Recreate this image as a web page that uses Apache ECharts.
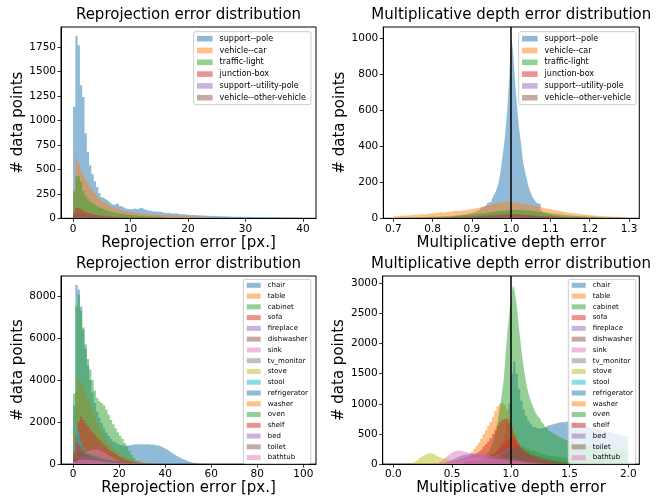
<!DOCTYPE html>
<html>
<head>
<meta charset="utf-8">
<script src="https://cdn.jsdelivr.net/npm/echarts@6/dist/echarts.min.js"></script>
<style>html,body{margin:0;padding:0;background:#fff}#chart{width:659px;height:497px}</style>
</head>
<body>
<div id="chart"></div>
<script>
// ---- data: categories ----
const topNames = ['support--pole', 'vehicle--car', 'traffic-light', 'junction-box', 'support--utility-pole', 'vehicle--other-vehicle']
const botNames = ['chair', 'table', 'cabinet', 'sofa', 'fireplace', 'dishwasher', 'sink', 'tv_monitor', 'stove', 'stool',
  'refrigerator', 'washer', 'oven', 'shelf', 'bed', 'toilet', 'bathtub']

// ---- tick labels ----
const tlXTicks = [0, 10, 20, 30, 40]
const tlYTicks = [0, 250, 500, 750, 1000, 1250, 1500, 1750]
const trXTicks = [0.7, 0.8, 0.9, 1.0, 1.1, 1.2, 1.3]
const trYTicks = [0, 200, 400, 600, 800, 1000]
const blXTicks = [0, 20, 40, 60, 80, 100]
const blYTicks = [0, 2000, 4000, 6000, 8000]
const brXTicks = [0.0, 0.5, 1.0, 1.5, 2.0]
const brYTicks = [0, 500, 1000, 1500, 2000, 2500, 3000]

// ---- top-left: reprojection error counts (bin start, bin width) ----
const tlPoleBins = [0, 0.4]
const tlPole = [1140, 1864, 1770, 1360, 1240, 870, 680, 540, 450, 380, 320, 260, 215, 200, 185, 165, 145, 135, 150, 148,
  125, 112, 100, 96, 92, 96, 100, 92, 102, 106, 95, 86, 80, 76, 70, 73, 66, 69, 60, 58,
  55, 57, 50, 48, 51, 45, 42, 41, 38, 37, 35, 33, 34, 30, 31, 28, 29, 26, 27, 24,
  25, 22, 23, 21, 20, 21, 19, 18, 19, 17, 16, 17, 15, 16, 14, 15, 13, 14, 12, 13,
  12, 11, 12, 10, 11, 10, 9, 10, 9, 8, 9, 8, 7, 8, 7, 6, 7, 6, 6, 5]
const tlCarBins = [0, 0.4]
const tlCar = [300, 610, 560, 500, 440, 400, 360, 320, 290, 255, 230, 200, 175, 160, 145, 130, 120, 110, 100, 95,
  85, 80, 75, 70, 66, 62, 58, 55, 52, 50, 47, 45, 43, 42, 40, 39, 38, 36, 35, 34,
  33, 32, 31, 30, 29, 28, 27, 26, 25, 24, 22, 21, 19, 18, 16, 15, 14, 12, 11, 10]
const tlLightBins = [0, 0.4]
const tlLight = [275, 430, 425, 375, 280, 230, 200, 170, 150, 130, 118, 105, 95, 85, 78, 70, 65, 60, 55, 50,
  46, 43, 40, 38, 35, 33, 31, 29, 27, 25, 23, 22, 20, 19, 18, 16, 15, 14, 13, 12]
const tlBoxBins = [0, 0.4]
const tlBox = [60, 105, 100, 85, 70, 60, 52, 45, 40, 35, 31, 28, 25, 22, 20, 18, 16, 15, 13, 12,
  11, 10, 9, 8, 8, 7, 6, 6, 5, 5]
const tlUtilBins = [0, 0.4]
const tlUtil = [10, 30, 28, 24, 20, 17, 15, 13, 11, 10, 9, 8, 7, 6, 6, 5, 5, 4, 4, 3, 3, 3, 2, 2, 2]
const tlOtherBins = [0, 0.4]
const tlOther = [25, 55, 50, 44, 38, 33, 29, 26, 23, 20, 18, 16, 14, 13, 12, 11, 10, 9, 8, 8,
  7, 6, 6, 5, 5, 4, 4, 4, 3, 3]

// ---- top-right: multiplicative depth error counts ----
const trPoleBins = [0.85, 0.005]
const trPole = [12, 14, 15, 17, 18, 20, 22, 25, 28, 30, 34, 38, 42, 48, 55, 62, 68, 75, 85, 92,
  105, 122, 145, 175, 220, 290, 380, 470, 600, 780, 1012, 930, 760, 620, 500, 420, 320, 260, 215, 170,
  140, 115, 100, 85, 80, 50, 35, 28, 24, 20, 17, 15, 13, 12, 10, 9, 8, 7, 6, 5]
const trCarBins = [0.70, 0.01]
const trCar = [12, 14, 16, 15, 18, 20, 22, 21, 25, 28, 30, 33, 32, 36, 38, 42, 40, 45, 48, 52,
  55, 60, 64, 70, 76, 82, 86, 90, 92, 90, 88, 85, 80, 78, 74, 70, 64, 58, 54, 50,
  46, 42, 38, 34, 31, 28, 25, 23, 20, 18, 16, 14, 13, 11, 10, 9, 8, 7, 6, 5]
const trLightBins = [0.72, 0.01]
const trLight = [3, 4, 4, 5, 6, 6, 7, 8, 9, 10, 11, 12, 13, 15, 16, 18, 20, 22, 24, 26,
  28, 31, 34, 37, 40, 42, 44, 46, 47, 46, 45, 44, 42, 40, 37, 34, 31, 28, 25, 22,
  20, 18, 16, 14, 13, 12, 10, 9, 8, 7, 6, 5, 5, 4, 4, 3, 3, 2]
const trBoxBins = [0.80, 0.01]
const trBox = [2, 2, 3, 3, 4, 4, 5, 5, 6, 7, 8, 9, 10, 11, 12, 13, 15, 16, 18, 19,
  20, 19, 18, 16, 15, 13, 12, 11, 10, 9, 8, 7, 6, 5, 5, 4, 4, 3, 3, 2]
const trUtilBins = [0.85, 0.01]
const trUtil = [1, 1, 2, 2, 3, 3, 4, 4, 5, 6, 7, 8, 9, 10, 10, 10, 9, 8, 7, 6, 5, 4, 4, 3, 3, 2, 2, 1, 1, 1]
const trOtherBins = [0.75, 0.01]
const trOther = [2, 2, 3, 3, 4, 4, 5, 5, 6, 6, 7, 8, 9, 10, 11, 12, 13, 15, 17, 19,
  21, 23, 24, 25, 25, 24, 23, 21, 19, 17, 15, 14, 12, 11, 10, 9, 8, 7, 6, 6,
  5, 5, 4, 4, 3, 3, 3, 2, 2, 2]

// ---- bottom-left: reprojection error counts ----
const blChairBins = [0, 1]
const blChair = [2800, 8520, 8300, 7500, 6400, 5500, 4700, 4000, 3400, 2900, 2500, 2200, 1950, 1700, 1500, 1350, 1200, 1080, 990, 930,
  900, 880, 870, 880, 900, 920, 940, 930, 950, 940, 930, 945, 950, 920, 930, 900, 880, 850, 800, 740,
  680, 610, 540, 470, 400, 340, 280, 230, 180, 140, 100, 75, 50, 35, 20, 12, 6]
const blTableBins = [0, 1]
const blTable = [1500, 3500, 4050, 3900, 3700, 3400, 3100, 2800, 2500, 2200, 1950, 1700, 1500, 1300, 1150, 1000, 870, 750, 650, 560,
  480, 410, 350, 300, 250, 210, 175, 145, 120, 100, 80, 65, 50, 40, 30, 22, 16, 12, 8, 5]
const blCabinetBins = [0, 1]
const blCabinet = [3360, 7500, 8050, 7300, 6500, 5700, 5000, 4500, 4000, 3500, 3150, 3000, 2900, 2800, 2600, 2350, 2100, 1900, 1700, 1500,
  1350, 1200, 1000, 850, 650, 450, 280, 160, 90, 50, 30, 15, 8]
const blSofaBins = [0, 1]
const blSofa = [500, 1400, 2000, 2250, 2100, 1950, 1800, 1650, 1500, 1380, 1270, 1150, 1030, 920, 820, 720, 620, 530, 450, 380,
  320, 260, 210, 170, 130, 100, 75, 55, 40, 28, 18, 10]
const blFireBins = [0, 2]
const blFire = [150, 300, 280, 230, 180, 140, 105, 80, 60, 45, 34, 25, 18, 13, 9, 6, 4]
const blDishBins = [0, 2]
const blDish = [200, 380, 350, 300, 250, 200, 160, 125, 95, 72, 55, 41, 30, 22, 16, 11, 7, 4]
const blSinkBins = [0, 1]
const blSink = [100, 250, 380, 470, 540, 590, 630, 670, 700, 710, 700, 660, 600, 530, 460, 390, 320, 260, 200, 150,
  110, 80, 55, 35, 22, 12]
const blTvBins = [0, 2]
const blTv = [250, 450, 420, 360, 300, 240, 190, 150, 115, 88, 66, 50, 37, 27, 19, 13, 8, 5]
const blStoveBins = [0, 2]
const blStove = [150, 320, 300, 260, 220, 180, 145, 115, 90, 70, 54, 41, 31, 23, 17, 12, 8, 5]
const blStoolBins = [0, 1]
const blStool = [1000, 1800, 1500, 1100, 800, 600, 450, 330, 240, 170, 120, 85, 60, 40, 28, 18, 12, 8]
const blFridgeBins = [0, 2]
const blFridge = [200, 420, 400, 340, 280, 225, 180, 140, 110, 85, 65, 50, 38, 28, 20, 14, 9, 5]
const blWasherBins = [0, 2]
const blWasher = [150, 300, 280, 240, 200, 160, 128, 100, 78, 60, 46, 35, 26, 19, 14, 10, 6, 3]
const blOvenBins = [0, 2]
const blOven = [300, 600, 550, 470, 390, 320, 260, 210, 165, 130, 100, 78, 60, 45, 34, 25, 18, 12, 8, 5]
const blShelfBins = [0, 1]
const blShelf = [600, 1050, 950, 800, 650, 520, 420, 340, 270, 220, 180, 150, 120, 100, 80, 65, 50, 40, 30, 22, 15]
const blBedBins = [0, 2]
const blBed = [200, 380, 400, 360, 310, 260, 215, 175, 140, 110, 86, 67, 52, 40, 30, 22, 16, 11, 7, 4]
const blToiletBins = [0, 2]
const blToilet = [300, 500, 450, 380, 310, 250, 200, 160, 125, 98, 76, 59, 45, 34, 25, 18, 12, 8, 5]
const blBathBins = [0, 2]
const blBath = [100, 200, 220, 200, 170, 140, 115, 92, 73, 57, 44, 34, 26, 19, 14, 10, 7, 4]

// ---- bottom-right: multiplicative depth error counts ----
const brChairBins = [0.5, 0.02]
const brChair = [20, 25, 30, 35, 40, 45, 50, 55, 60, 70, 80, 90, 100, 110, 125, 140, 160, 180, 210, 250,
  300, 380, 500, 700, 1000, 1500, 1700, 1500, 1250, 1050, 900, 800, 720, 660, 620, 600, 590, 590, 600, 620,
  640, 650, 660, 670, 680, 690, 700, 690, 710, 700, 690, 700, 680, 670, 660, 650, 640, 620, 610, 600,
  590, 580, 570, 560, 550, 540, 530, 520, 510, 500, 490, 480, 470, 460, 450]
const brTableBins = [0.3, 0.02]
const brTable = [10, 12, 15, 18, 22, 26, 30, 35, 40, 48, 56, 65, 75, 90, 105, 120, 140, 165, 200, 250,
  300, 360, 420, 500, 560, 640, 700, 780, 880, 960, 1000, 1020, 980, 900, 780, 650, 540, 450, 370, 300,
  250, 200, 165, 135, 110, 90, 75, 60, 50, 40, 32, 25, 20, 15, 10]
const brCabinetBins = [0.6, 0.01]
const brCabinet = [30, 32, 35, 38, 40, 45, 50, 55, 60, 65, 70, 78, 85, 92, 100, 110, 120, 135, 150, 170,
  190, 215, 240, 280, 320, 370, 430, 510, 600, 720, 850, 970, 1100, 1250, 1400, 1650, 1900, 2150, 2350, 2550,
  2720, 2880, 2971, 2900, 2780, 2650, 2450, 2250, 2080, 1900, 1750, 1600, 1480, 1350, 1260, 1180, 1110, 1050, 1000, 950,
  900, 860, 825, 790, 760, 730, 700, 670, 645, 620, 600, 580, 560, 545, 530, 515, 500, 490, 480, 470,
  460, 450, 440, 430, 420, 410, 400, 390, 380, 370, 362, 355, 350, 345, 340, 335, 330, 325, 322, 320,
  318, 315, 312, 310, 308, 305, 302, 300, 298, 295, 292, 290, 288, 285, 282, 280, 278, 275, 272, 270,
  268, 265, 262, 260, 258, 255, 252, 250, 249, 248, 246, 245, 244, 242, 241, 240, 239, 238, 236, 235]
const brSofaBins = [0.4, 0.02]
const brSofa = [20, 25, 30, 35, 40, 50, 60, 70, 80, 90, 100, 115, 130, 150, 170, 190, 220, 250, 290, 330,
  380, 430, 500, 570, 640, 700, 740, 760, 740, 680, 580, 480, 400, 330, 270, 220, 180, 150, 120, 100,
  80, 65, 52, 42, 34, 27, 21, 16, 12, 8]
const brFireBins = [0.5, 0.04]
const brFire = [10, 25, 40, 55, 70, 80, 90, 100, 110, 120, 130, 135, 130, 115, 95, 80, 65, 50, 40, 30, 22, 16, 11, 7, 4]
const brDishBins = [0.6, 0.04]
const brDish = [10, 20, 30, 45, 60, 80, 100, 120, 145, 170, 190, 200, 185, 165, 140, 120, 100, 85, 70, 60,
  50, 42, 35, 28, 22, 18, 14, 10, 7, 5]
const brSinkBins = [0.36, 0.02]
const brSink = [20, 40, 70, 100, 130, 160, 190, 210, 220, 225, 220, 210, 200, 190, 180, 170, 165, 160, 155, 150,
  145, 140, 135, 130, 125, 120, 115, 110, 105, 100, 95, 90, 85, 75, 65, 55, 45, 35, 28, 20, 14, 8]
const brTvBins = [0.5, 0.04]
const brTv = [10, 15, 22, 30, 40, 50, 62, 75, 90, 105, 120, 135, 150, 150, 135, 115, 95, 80, 65, 55,
  45, 37, 30, 24, 19, 15, 11, 8, 6, 4]
const brStoveBins = [0.14, 0.02]
const brStove = [10, 30, 60, 90, 120, 140, 160, 175, 180, 170, 150, 130, 110, 95, 85, 75, 70, 65, 60, 55, 50, 45, 40]
const brStoolBins = [0.6, 0.02]
const brStool = [20, 25, 30, 35, 40, 50, 60, 70, 80, 95, 110, 125, 140, 160, 180, 200, 220, 245, 265, 280,
  270, 240, 210, 180, 150, 125, 105, 90, 75, 62, 50, 42, 35, 28, 22, 17, 13, 10, 7, 5]
const brFridgeBins = [0.6, 0.02]
const brFridge = [20, 25, 30, 35, 40, 45, 50, 60, 70, 80, 90, 100, 110, 125, 140, 155, 170, 190, 210, 230,
  240, 230, 210, 190, 170, 150, 135, 120, 110, 100, 90, 80, 72, 65, 58, 52, 46, 40, 35, 30,
  26, 22, 19, 16, 13, 11, 9, 7, 5, 4]
const brWasherBins = [0.4, 0.04]
const brWasher = [10, 18, 28, 40, 55, 70, 85, 100, 115, 130, 140, 150, 145, 130, 110, 90, 72, 58, 45, 35, 27, 20, 14, 9, 5]
const brOvenBins = [0.6, 0.04]
const brOven = [10, 15, 22, 30, 40, 55, 70, 90, 120, 160, 220, 280, 300, 260, 220, 190, 165, 145, 130, 118,
  108, 100, 92, 86, 80, 75, 70, 66, 62, 58]
const brShelfBins = [0.6, 0.02]
const brShelf = [40, 45, 50, 55, 60, 70, 80, 90, 100, 115, 130, 150, 170, 200, 230, 270, 310, 350, 390, 420,
  430, 400, 350, 300, 260, 220, 190, 160, 140, 120, 100, 85, 70, 60, 50, 40, 32, 25, 20, 15]
const brBedBins = [0.4, 0.02]
const brBed = [10, 20, 35, 50, 70, 90, 110, 125, 140, 150, 160, 165, 170, 170, 168, 165, 160, 155, 150, 145,
  140, 135, 130, 125, 120, 115, 110, 105, 100, 95, 90, 80, 70, 60, 50, 40, 30, 22, 15, 8]
const brToiletBins = [0.6, 0.04]
const brToilet = [10, 18, 28, 40, 55, 75, 100, 130, 170, 220, 260, 270, 240, 200, 160, 125, 95, 72, 55, 40, 30, 22, 15, 10, 6]
const brBathBins = [0.3, 0.04]
const brBath = [5, 10, 18, 28, 40, 55, 70, 85, 95, 100, 100, 98, 95, 90, 85, 80, 72, 62, 50, 40, 30, 22, 15, 9, 5]

// matplotlib tab10 at alpha 0.5
const tab10 = ['31,119,180', '255,127,14', '44,160,44', '214,39,40', '148,103,189',
  '140,86,75', '227,119,194', '127,127,127', '188,189,34', '23,190,207']
const col = i => 'rgba(' + tab10[i % 10] + ',0.5)'

const FONT = 'DejaVu Sans'

// bins -> step points
function hist(bins, counts) {
  const pts = counts.map((c, i) => [bins[0] + i * bins[1], c])
  pts.push([bins[0] + counts.length * bins[1], 0])
  return pts
}

const panels = [
  {
    names: topNames,
    data: [[tlPoleBins, tlPole], [tlCarBins, tlCar], [tlLightBins, tlLight], [tlBoxBins, tlBox], [tlUtilBins, tlUtil], [tlOtherBins, tlOther]],
    grid: { left: 61, top: 27, width: 255, height: 191.3 },
    xr: [-2.09, 42.26], ymax: 1957, xt: tlXTicks, yt: tlYTicks, dec: 0,
    title: 'Reprojection error distribution', xname: 'Reprojection error [px.]',
    legend: { left: 193.7, top: 31.7 }, small: false, vline: false,
  },
  {
    names: topNames,
    data: [[trPoleBins, trPole], [trCarBins, trCar], [trLightBins, trLight], [trBoxBins, trBox], [trUtilBins, trUtil], [trOtherBins, trOther]],
    grid: { left: 383.3, top: 27, width: 256, height: 191.3 },
    xr: [0.6745, 1.3262], ymax: 1063, xt: trXTicks, yt: trYTicks, dec: 1,
    title: 'Multiplicative depth error distribution', xname: 'Multiplicative depth error',
    legend: { left: 518.7, top: 31.7 }, small: false, vline: true,
  },
  {
    names: botNames,
    data: [[blChairBins, blChair], [blTableBins, blTable], [blCabinetBins, blCabinet], [blSofaBins, blSofa], [blFireBins, blFire],
      [blDishBins, blDish], [blSinkBins, blSink], [blTvBins, blTv], [blStoveBins, blStove], [blStoolBins, blStool],
      [blFridgeBins, blFridge], [blWasherBins, blWasher], [blOvenBins, blOven], [blShelfBins, blShelf], [blBedBins, blBed],
      [blToiletBins, blToilet], [blBathBins, blBath]],
    grid: { left: 61, top: 276, width: 255, height: 189 },
    xr: [-5.21, 105.5], ymax: 8946, xt: blXTicks, yt: blYTicks, dec: 0,
    title: 'Reprojection error distribution', xname: 'Reprojection error [px.]',
    legend: { left: 243.3, top: 279.3 }, small: true, vline: false,
  },
  {
    names: botNames,
    data: [[brChairBins, brChair], [brTableBins, brTable], [brCabinetBins, brCabinet], [brSofaBins, brSofa], [brFireBins, brFire],
      [brDishBins, brDish], [brSinkBins, brSink], [brTvBins, brTv], [brStoveBins, brStove], [brStoolBins, brStool],
      [brFridgeBins, brFridge], [brWasherBins, brWasher], [brOvenBins, brOven], [brShelfBins, brShelf], [brBedBins, brBed],
      [brToiletBins, brToilet], [brBathBins, brBath]],
    grid: { left: 382.7, top: 276, width: 256.6, height: 189 },
    xr: [-0.09, 2.094], ymax: 3120, xt: brXTicks, yt: brYTicks, dec: 1,
    title: 'Multiplicative depth error distribution', xname: 'Multiplicative depth error',
    legend: { left: 568.3, top: 279.3 }, small: true, vline: true,
  },
]

const grids = [], xAxes = [], yAxes = [], titles = [], legends = [], series = []

panels.forEach((p, k) => {
  grids.push(Object.assign({ show: true, borderColor: '#000', borderWidth: 1, backgroundColor: 'transparent' }, p.grid))
  titles.push({
    text: p.title, left: p.grid.left + p.grid.width / 2, textAlign: 'center', top: p.grid.top - 19.5, padding: 0,
    textStyle: { fontFamily: FONT, fontSize: 15, fontWeight: 'normal', color: '#000' },
  })
  const dec = p.dec
  xAxes.push({
    type: 'value', gridIndex: k, min: p.xr[0], max: p.xr[1],
    name: p.xname, nameLocation: 'middle', nameGap: 15,
    nameTextStyle: { fontFamily: FONT, fontSize: 15, color: '#000' },
    axisLine: { show: true, onZero: false, lineStyle: { color: '#000', width: 1 } },
    axisTick: { show: true, length: 3.5, customValues: p.xt, lineStyle: { color: '#000', width: 0.8 } },
    axisLabel: { customValues: p.xt, margin: 5, fontFamily: FONT, fontSize: 10.5, color: '#000', formatter: v => v.toFixed(dec) },
    splitLine: { show: false },
  })
  yAxes.push({
    type: 'value', gridIndex: k, min: 0, max: p.ymax,
    name: '# data points', nameLocation: 'middle', nameGap: 31,
    nameTextStyle: { fontFamily: FONT, fontSize: 15, color: '#000' },
    axisLine: { show: true, onZero: false, lineStyle: { color: '#000', width: 1 } },
    axisTick: { show: true, length: 3.5, customValues: p.yt, lineStyle: { color: '#000', width: 0.8 } },
    axisLabel: { customValues: p.yt, margin: 5, fontFamily: FONT, fontSize: 10.5, color: '#000', formatter: v => String(v) },
    splitLine: { show: false },
  })
  legends.push({
    orient: 'vertical', left: p.legend.left, top: p.legend.top,
    data: p.names.map((n, i) => ({ name: n, icon: 'rect', itemStyle: { color: col(i), borderWidth: 0 } })),
    itemWidth: p.small ? 14 : 15.6, itemHeight: p.small ? 5 : 5.6,
    itemGap: p.small ? 1.77 : 1.8,
    padding: p.small ? [1.5, 3, 1.5, 3.4] : [2, 5, 2, 3.3],
    backgroundColor: 'rgba(255,255,255,0.8)', borderColor: '#cccccc', borderWidth: 1, borderRadius: 2,
    textStyle: { fontFamily: FONT, fontSize: p.small ? 7 : 8, lineHeight: p.small ? 9 : 10, color: '#000', padding: [0, 0, 0, 2] },
    selectedMode: false,
  })
  p.data.forEach((d, i) => {
    const s = {
      type: 'line', name: p.names[i], xAxisIndex: k, yAxisIndex: k,
      step: 'end', symbol: 'none', showSymbol: false, silent: true,
      lineStyle: { width: 0, opacity: 0 },
      itemStyle: { color: col(i) },
      areaStyle: { color: col(i), opacity: 1 },
      data: hist(d[0], d[1]),
    }
    if (p.vline && i === p.data.length - 1) {
      s.markLine = {
        silent: true, symbol: ['none', 'none'], label: { show: false },
        lineStyle: { color: '#000', width: 1.5, type: 'solid' },
        data: [{ xAxis: 1 }],
      }
    }
    series.push(s)
  })
})

const chart = echarts.init(document.getElementById('chart'))
chart.setOption({
  animation: false,
  backgroundColor: '#fff',
  title: titles,
  grid: grids,
  xAxis: xAxes,
  yAxis: yAxes,
  legend: legends,
  series: series,
})
</script>
</body>
</html>
